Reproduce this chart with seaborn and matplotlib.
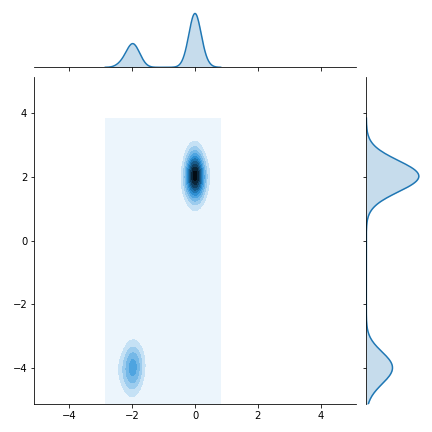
import colorsys
import numpy as np
import pandas as pd
import matplotlib
matplotlib.use("Agg")
import matplotlib.pyplot as plt
import seaborn as sns

# big blob near (0, 2), small blob near (-2, -4)
x_top = [0.02, -0.11, 0.16, -0.03, 0.07, -0.25, 0.0, 0.12, -0.06, 0.03,
         -0.01, 0.3, -0.08, 0.05, -0.15, 0.01, 0.09, -0.04, 0.0, -0.02]
y_top = [1.45, 1.6, 1.7, 1.76, 1.82, 1.87, 1.91, 1.95, 1.98, 2.0,
         2.02, 2.05, 2.08, 2.12, 2.16, 2.21, 2.27, 2.34, 2.43, 2.6]
x_bottom = [-1.98, -2.15, -1.84, -2.04, -2.34, -1.9, -2.01, -1.75, -2.09, -1.95]
y_bottom = [-4.5, -4.3, -4.18, -4.08, -4.02, -3.96, -3.88, -3.8, -3.7, -3.55]

df = pd.DataFrame({"x": x_top + x_bottom, "y": y_top + y_bottom})

# old jointplot colormap: white -> C0 -> black
h, l, s = colorsys.rgb_to_hls(*matplotlib.colors.to_rgb("C0"))
ramp = [colorsys.hls_to_rgb(h, lv, s) for lv in np.linspace(1, 0, 12)]
cmap = sns.blend_palette(ramp, as_cmap=True)

adj_x, adj_y = 0.35, 0.28
n = len(df)
bw_x = adj_x * df["x"].std() * n ** (-1 / 5)
bw_y = adj_y * df["y"].std() * n ** (-1 / 5)

g = sns.JointGrid(data=df, x="x", y="y", height=6,
                  xlim=(-5.12, 5.12), ylim=(-5.13, 5.13))

# joint density (axis aligned kernels), grid reaches 3 bandwidths past the data
gx = np.linspace(df["x"].min() - 3 * bw_x, df["x"].max() + 3 * bw_x, 200)
gy = np.linspace(df["y"].min() - 3 * bw_y, df["y"].max() + 3 * bw_y, 200)
xx, yy = np.meshgrid(gx, gy)
zz = np.zeros_like(xx)
for px, py in zip(df["x"], df["y"]):
    zz += np.exp(-0.5 * (((xx - px) / bw_x) ** 2 + ((yy - py) / bw_y) ** 2))
zz /= n * 2 * np.pi * bw_x * bw_y
g.ax_joint.contourf(xx, yy, zz, 10, cmap=cmap)

# marginals: shaded area without edge, then the curve on top
sns.kdeplot(data=df, x="x", ax=g.ax_marg_x, fill=True, bw_adjust=adj_x,
            color="C0", linewidth=0)
sns.kdeplot(data=df, x="x", ax=g.ax_marg_x, bw_adjust=adj_x,
            color="C0", linewidth=1.5)
sns.kdeplot(data=df, y="y", ax=g.ax_marg_y, fill=True, bw_adjust=adj_y,
            color="C0", linewidth=0)
sns.kdeplot(data=df, y="y", ax=g.ax_marg_y, bw_adjust=adj_y,
            color="C0", linewidth=1.5)

g.set_axis_labels("", "")
g.ax_joint.set_xlim(-5.12, 5.12)
g.ax_joint.set_ylim(-5.13, 5.13)

# a bit more headroom on the marginals, like the old version
top = g.ax_marg_x.get_ylim()[1]
g.ax_marg_x.set_ylim(0, top / 1.05 / 0.82)
right = g.ax_marg_y.get_xlim()[1]
g.ax_marg_y.set_xlim(0, right / 1.05 / 0.80)

# tight layout as in the reference
g.ax_joint.set_position([0.0794, 0.0641, 0.744, 0.7583])
g.ax_marg_x.set_position([0.0794, 0.8442, 0.744, 0.152])
g.ax_marg_y.set_position([0.848, 0.0641, 0.152, 0.7583])

plt.savefig("out.png", dpi=72)
